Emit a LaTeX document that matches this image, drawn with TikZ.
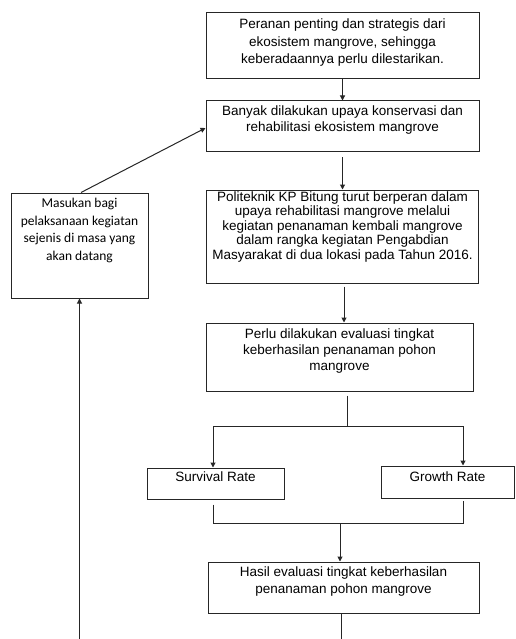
\documentclass[tikz,border=0pt]{standalone}
\usepackage{fontspec}
\setmainfont{Liberation Sans}
\newfontfamily\calibri{Carlito}
\usetikzlibrary{positioning,arrows.meta}

\begin{document}
\begin{tikzpicture}[line width=1pt, draw=black!85,
  >={Triangle[length=5pt,width=5pt]},
  box/.style={draw, rectangle, inner sep=0pt},
  txt/.style={inner sep=0pt, align=center, font=\fontsize{13.5}{16}\selectfont}]
  \useasboundingbox (0,0) rectangle (516pt,-639pt);
  \node [box, minimum width=273pt, minimum height=66pt] (pera) at (342.5pt,-46pt) {};
  \node [txt, below=6pt of pera.north, font=\fontsize{13.5}{17.5}\selectfont] (pera-t)
    {Peranan penting dan strategis dari\\ekosistem mangrove, sehingga\\keberadaannya perlu dilestarikan.};
  \node [box, minimum width=273pt, minimum height=51pt] (bany) at (342.5pt,-126.5pt) {};
  \node [txt, below=5pt of bany.north] (bany-t)
    {Banyak dilakukan upaya konservasi dan\\rehabilitasi ekosistem mangrove};
  \node [box, minimum width=272pt, minimum height=93pt] (poli) at (342.5pt,-236.5pt) {};
  \node [txt, below=1.5pt of poli.north, font=\fontsize{13.5}{14.5}\selectfont] (poli-t)
    {Politeknik KP Bitung turut berperan dalam\\upaya rehabilitasi mangrove melalui\\kegiatan penanaman kembali mangrove\\dalam rangka kegiatan Pengabdian\\Masyarakat di dua lokasi pada Tahun 2016.};
  \node [box, minimum width=267pt, minimum height=68pt] (perl) at (339.5pt,-357pt) {};
  \node [txt, below=6pt of perl.north] (perl-t)
    {Perlu dilakukan evaluasi tingkat\\keberhasilan penanaman pohon\\mangrove};
  \node [box, minimum width=137pt, minimum height=31pt] (surv) at (215.5pt,-483.5pt) {};
  \node [txt, below=4pt of surv.north] (surv-t) {Survival Rate};
  \node [box, minimum width=133pt, minimum height=32pt] (grow) at (447.5pt,-482pt) {};
  \node [txt, below=6pt of grow.north] (grow-t) {Growth Rate};
  \node [box, minimum width=271pt, minimum height=51pt] (hasi) at (343.5pt,-587.5pt) {};
  \node [txt, below=5pt of hasi.north, font=\fontsize{13.5}{17}\selectfont] (hasi-t)
    {Hasil evaluasi tingkat keberhasilan\\penanaman pohon mangrove};
  \node [box, minimum width=137pt, minimum height=105pt] (masu) at (79.5pt,-245.5pt) {};
  \node [txt, below=5pt of masu.north, font=\calibri\fontsize{13.5}{17.7}\selectfont] (masu-t)
    {Masukan bagi\\pelaksanaan kegiatan\\sejenis di masa yang\\akan datang};
  \coordinate (split) at (347pt,-426pt);
  \coordinate (join) at (340pt,-523pt);
  \coordinate (hend) at (341pt,-639pt);
  \coordinate (lend) at (79.5pt,-639pt);
  \draw [->] (pera) -- (bany);
  \draw [->] ([yshift=-5pt]bany.south) -- (poli.north);
  \draw [->] ([xshift=1.5pt,yshift=-3pt]poli.south) -- ([xshift=1.5pt]poli.south |- perl.north);
  \draw ([xshift=7.5pt,yshift=-4pt]perl.south) -- (split);
  \draw [->] (split) -| ([xshift=-2.5pt]surv.north);
  \draw [->] (split) -| ([xshift=15.5pt]grow.north);
  \draw ([xshift=-2.5pt,yshift=-5pt]surv.south) |- ([xshift=15.5pt,yshift=-25pt]grow.south)
    -- ([xshift=15.5pt,yshift=-2pt]grow.south);
  \draw [->] (join) -- (join |- hasi.north);
  \draw (hasi.south -| hend) -- (hend);
  \draw [->] (lend) -- (masu.south);
  \draw [->] ([xshift=1.5pt]masu.north) -- ([yshift=-1.5pt]bany.west);
\end{tikzpicture}
\end{document}
